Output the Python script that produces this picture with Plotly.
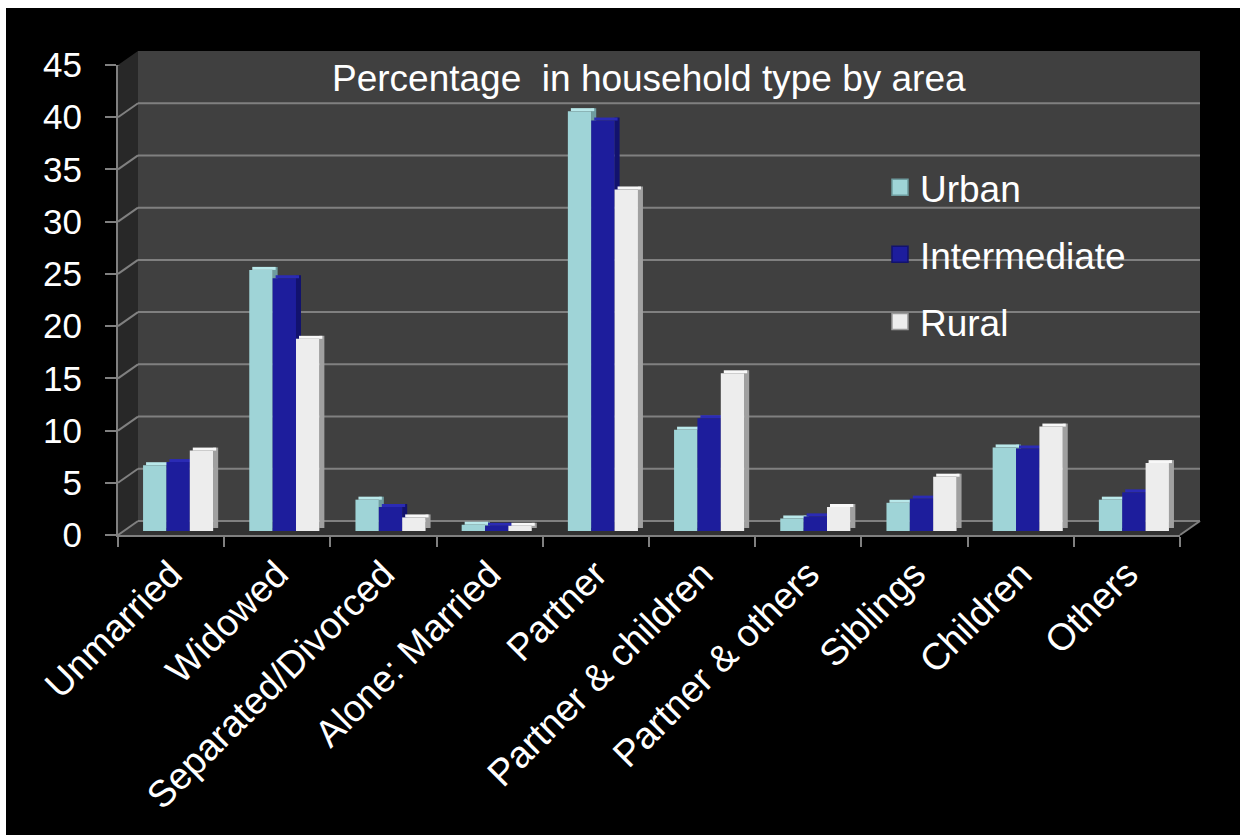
import plotly.graph_objects as go

# ---------------- data ----------------
categories = ["Unmarried", "Widowed", "Separated/Divorced", "Alone: Married", "Partner",
              "Partner & children", "Partner & others", "Siblings", "Children", "Others"]
urban = [6.3, 25.0, 3.0, 0.6, 40.2, 9.7, 1.2, 2.7, 8.0, 3.0]
intermediate = [6.6, 24.2, 2.3, 0.5, 39.3, 10.8, 1.4, 3.1, 7.9, 3.7]
rural = [7.7, 18.4, 1.3, 0.5, 32.7, 15.1, 2.3, 5.2, 10.0, 6.5]
series_names = ["Urban", "Intermediate", "Rural"]
y_ticks = [0, 5, 10, 15, 20, 25, 30, 35, 40, 45]
title_text = "Percentage  in household type by area"

# ---------------- layout constants ----------------
W, H = 1240, 838
ML, MR, MT, MB = 118, 60, 65, 303
PW, PH = W - ML - MR, H - MT - MB
YMAX = 45
DX_PX, DY_PX = 20, 14          # 3D depth offset of back wall
DEPTH_PX = 4                   # bars sit slightly behind the front edge
u_per_px = YMAX / PH
cat_px = PW / len(categories)
dxp = DX_PX / PW
dyp = DY_PX / PH

FONT = "Liberation Sans, Arial, sans-serif"
front_cols = ["#9fd4d7", "#1d1d9c", "#ededed"]
side_cols = ["#6e9c9f", "#12126e", "#a0a0a0"]
cap_cols = ["#b9e8ea", "#2b2bb5", "#f8f8f8"]
legend_line = ["#6e9c9f", "#12126e", "#9a9a9a"]
values = [urban, intermediate, rural]

bar_w = 0.22
offsets = [-0.264, -0.044, 0.176]
side_w = 5 / cat_px
cap_dx = 3 / cat_px
cap_h = 3 * u_per_px
base0 = DEPTH_PX * u_per_px

fig = go.Figure()
for i, name in enumerate(series_names):
    vals = values[i]
    # right side face
    fig.add_trace(go.Bar(
        x=categories, y=vals, showlegend=False,
        marker=dict(color=side_cols[i], line=dict(width=0)),
        width=side_w, offset=offsets[i] + bar_w, base=base0 + cap_h,
        hoverinfo="skip",
    ))
    # top cap
    fig.add_trace(go.Bar(
        x=categories, y=[cap_h] * len(vals), showlegend=False,
        marker=dict(color=cap_cols[i], line=dict(width=0)),
        width=bar_w, offset=offsets[i] + cap_dx, base=[v + base0 for v in vals],
        hoverinfo="skip",
    ))
    # front face
    fig.add_trace(go.Bar(
        x=categories, y=vals, name=name, showlegend=False,
        marker=dict(color=front_cols[i], line=dict(width=0)),
        width=bar_w, offset=offsets[i], base=base0,
        hovertemplate="%{x}<br>" + name + ": %{y}<extra></extra>",
    ))

# legend entries (square swatches)
for i, name in enumerate(series_names):
    fig.add_trace(go.Scatter(
        x=[None], y=[None], mode="markers", name=name, legendgroup=name,
        marker=dict(symbol="square", size=16, color=front_cols[i],
                    line=dict(color=legend_line[i], width=1.5)),
        hoverinfo="skip",
    ))

shapes = []
# black canvas inside white frame
shapes.append(dict(type="rect", xref="paper", yref="paper", layer="below",
                   x0=(6 - ML) / PW, x1=(W - ML) / PW,
                   y0=(MT + PH - 835) / PH, y1=(MT + PH - 8) / PH,
                   fillcolor="black", line=dict(width=0)))
# back wall
shapes.append(dict(type="rect", xref="paper", yref="paper", layer="below",
                   x0=dxp, x1=1 + dxp, y0=dyp, y1=1 + dyp,
                   fillcolor="#404040", line=dict(width=0)))
# left side wall
shapes.append(dict(type="path", xref="paper", yref="paper", layer="below",
                   path=f"M0,0 L{dxp},{dyp} L{dxp},{1 + dyp} L0,1 Z",
                   fillcolor="#282828", line=dict(width=0)))
# floor
shapes.append(dict(type="path", xref="paper", yref="paper", layer="below",
                   path=f"M0,0 L{dxp},{dyp} L{1 + dxp},{dyp} L1,0 Z",
                   fillcolor="#323232", line=dict(width=0)))
# gridlines on back wall and side wall
for t in y_ticks:
    yb = t + DY_PX * u_per_px
    shapes.append(dict(type="line", xref="paper", yref="y", layer="below",
                       x0=dxp, x1=1 + dxp, y0=yb, y1=yb,
                       line=dict(color="#808080", width=2)))
    shapes.append(dict(type="line", xref="paper", yref="y", layer="below",
                       x0=0, x1=dxp, y0=t, y1=yb,
                       line=dict(color="#808080", width=2)))
# floor front-right edge
shapes.append(dict(type="line", xref="paper", yref="paper", layer="below",
                   x0=1, x1=1 + dxp, y0=0, y1=dyp,
                   line=dict(color="#808080", width=2)))

fig.update_layout(
    width=W, height=H, autosize=False,
    margin=dict(l=ML, r=MR, t=MT, b=MB),
    paper_bgcolor="white", plot_bgcolor="rgba(0,0,0,0)",
    barmode="overlay", showlegend=True,
    font=dict(family=FONT, color="white", size=35),
    shapes=shapes,
    legend=dict(x=0.7175, y=0.805, xanchor="left", yanchor="top",
                bgcolor="rgba(0,0,0,0)", font=dict(size=37, color="white", family=FONT),
                tracegroupgap=16, itemclick=False, itemdoubleclick=False),
    annotations=[dict(text=title_text, xref="paper", yref="paper", x=0.5,
                      y=(MT + PH - 78) / PH, xanchor="center", yanchor="middle",
                      showarrow=False, font=dict(size=37, color="white", family=FONT))],
    xaxis=dict(type="category", range=[-0.5, len(categories) - 0.5],
               tickangle=-45, tickfont=dict(size=37.5, color="white"),
               ticks="outside", tickson="boundaries", ticklen=10, tickcolor="#808080",
               tickwidth=2, showline=True, linecolor="#808080", linewidth=2,
               showgrid=False, zeroline=False, fixedrange=True),
    yaxis=dict(range=[0, YMAX], tickvals=y_ticks, ticktext=[str(t) for t in y_ticks],
               tickfont=dict(size=35, color="white"),
               ticks="outside", ticklen=11, tickcolor="#808080", tickwidth=2,
               ticklabelstandoff=16,
               showline=True, linecolor="#808080", linewidth=2,
               showgrid=False, zeroline=False, fixedrange=True),
)

fig.write_html("out.html")
